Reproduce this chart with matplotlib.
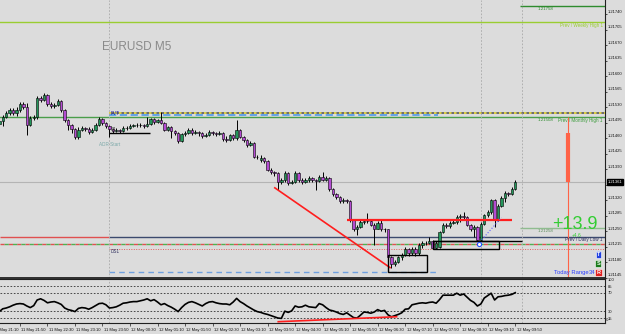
import numpy as np
import matplotlib
matplotlib.use('Agg')
import matplotlib.pyplot as plt
import matplotlib.transforms as mtransforms
from matplotlib.patches import Rectangle

plt.rcParams['font.family'] = ['Liberation Sans', 'DejaVu Sans']

# EURUSD M5 bars, 11 May 21:20 -> 12 May 09:50 (bar index 0..150)
opens = [
    1.21492, 1.21499, 1.21508, 1.21517, 1.21524, 1.21517, 1.21524, 1.21537, 1.21531, 1.21490,
    1.21506, 1.21508, 1.21551, 1.21546, 1.21558, 1.21537, 1.21533, 1.21535, 1.21544, 1.21524,
    1.21501, 1.21490, 1.21481, 1.21463, 1.21479, 1.21483, 1.21481, 1.21474, 1.21479, 1.21490,
    1.21504, 1.21495, 1.21488, 1.21481, 1.21477, 1.21479, 1.21477, 1.21483, 1.21483, 1.21488,
    1.21490, 1.21490, 1.21490, 1.21488, 1.21492, 1.21504, 1.21497, 1.21501, 1.21495, 1.21479,
    1.21486, 1.21477, 1.21472, 1.21454, 1.21470, 1.21472, 1.21479, 1.21472, 1.21474, 1.21472,
    1.21465, 1.21467, 1.21474, 1.21472, 1.21470, 1.21472, 1.21458, 1.21456, 1.21467, 1.21461,
    1.21479, 1.21463, 1.21456, 1.21445, 1.21449, 1.21418, 1.21411, 1.21416, 1.21409, 1.21389,
    1.21384, 1.21382, 1.21362, 1.21366, 1.21382, 1.21359, 1.21362, 1.21382, 1.21366, 1.21362,
    1.21366, 1.21371, 1.21366, 1.21364, 1.21373, 1.21366, 1.21371, 1.21346, 1.21335, 1.21328,
    1.21319, 1.21321, 1.21319, 1.21276, 1.21256, 1.21260, 1.21272, 1.21274, 1.21274, 1.21265,
    1.21256, 1.21269, 1.21256, 1.21254, 1.21193, 1.21177, 1.21181, 1.21191, 1.21197, 1.21209,
    1.21200, 1.21211, 1.21200, 1.21220, 1.21224, 1.21224, 1.21227, 1.21213, 1.21215, 1.21249,
    1.21265, 1.21263, 1.21269, 1.21272, 1.21283, 1.21285, 1.21283, 1.21265, 1.21256, 1.21260,
    1.21231, 1.21267, 1.21287, 1.21294, 1.21321, 1.21276, 1.21308, 1.21326, 1.21337, 1.21335,
    1.21346]
highs = [
    1.21504, 1.21513, 1.21522, 1.21528, 1.21528, 1.21531, 1.21542, 1.21542, 1.21540, 1.21510,
    1.21513, 1.21555, 1.21555, 1.21562, 1.21560, 1.21542, 1.21540, 1.21549, 1.21546, 1.21526,
    1.21504, 1.21492, 1.21483, 1.21486, 1.21488, 1.21486, 1.21486, 1.21483, 1.21495, 1.21508,
    1.21506, 1.21497, 1.21490, 1.21483, 1.21483, 1.21481, 1.21488, 1.21488, 1.21492, 1.21492,
    1.21495, 1.21495, 1.21492, 1.21508, 1.21506, 1.21506, 1.21504, 1.21519, 1.21497, 1.21488,
    1.21488, 1.21479, 1.21474, 1.21472, 1.21477, 1.21483, 1.21483, 1.21479, 1.21477, 1.21474,
    1.21472, 1.21479, 1.21477, 1.21474, 1.21477, 1.21474, 1.21465, 1.21470, 1.21470, 1.21501,
    1.21481, 1.21465, 1.21458, 1.21454, 1.21452, 1.21422, 1.21422, 1.21418, 1.21411, 1.21393,
    1.21386, 1.21384, 1.21371, 1.21386, 1.21384, 1.21366, 1.21386, 1.21384, 1.21371, 1.21371,
    1.21375, 1.21373, 1.21368, 1.21377, 1.21384, 1.21375, 1.21373, 1.21348, 1.21337, 1.21330,
    1.21326, 1.21323, 1.21321, 1.21278, 1.21265, 1.21276, 1.21276, 1.21292, 1.21278, 1.21269,
    1.21274, 1.21276, 1.21258, 1.21256, 1.21195, 1.21186, 1.21195, 1.21202, 1.21215, 1.21213,
    1.21215, 1.21215, 1.21224, 1.21229, 1.21229, 1.21236, 1.21231, 1.21229, 1.21251, 1.21269,
    1.21269, 1.21274, 1.21276, 1.21287, 1.21290, 1.21294, 1.21285, 1.21267, 1.21265, 1.21263,
    1.21272, 1.21290, 1.21299, 1.21323, 1.21323, 1.21312, 1.21330, 1.21341, 1.21339, 1.21350,
    1.21366]
lows = [
    1.21488, 1.21488, 1.21506, 1.21513, 1.21513, 1.21510, 1.21519, 1.21526, 1.21467, 1.21488,
    1.21501, 1.21504, 1.21542, 1.21544, 1.21533, 1.21528, 1.21528, 1.21533, 1.21519, 1.21497,
    1.21479, 1.21472, 1.21458, 1.21458, 1.21477, 1.21477, 1.21470, 1.21472, 1.21477, 1.21488,
    1.21490, 1.21483, 1.21463, 1.21472, 1.21474, 1.21472, 1.21474, 1.21479, 1.21481, 1.21486,
    1.21486, 1.21486, 1.21483, 1.21486, 1.21490, 1.21492, 1.21495, 1.21492, 1.21477, 1.21477,
    1.21461, 1.21467, 1.21449, 1.21452, 1.21465, 1.21470, 1.21467, 1.21470, 1.21465, 1.21461,
    1.21463, 1.21465, 1.21467, 1.21465, 1.21467, 1.21454, 1.21452, 1.21454, 1.21456, 1.21456,
    1.21461, 1.21452, 1.21440, 1.21443, 1.21416, 1.21413, 1.21407, 1.21404, 1.21386, 1.21380,
    1.21375, 1.21344, 1.21357, 1.21362, 1.21355, 1.21357, 1.21359, 1.21362, 1.21357, 1.21359,
    1.21362, 1.21362, 1.21344, 1.21362, 1.21364, 1.21364, 1.21341, 1.21330, 1.21323, 1.21314,
    1.21314, 1.21314, 1.21272, 1.21251, 1.21242, 1.21258, 1.21267, 1.21269, 1.21263, 1.21220,
    1.21254, 1.21251, 1.21249, 1.21186, 1.21168, 1.21172, 1.21179, 1.21186, 1.21195, 1.21195,
    1.21197, 1.21195, 1.21197, 1.21213, 1.21220, 1.21222, 1.21211, 1.21211, 1.21213, 1.21247,
    1.21258, 1.21258, 1.21267, 1.21267, 1.21272, 1.21278, 1.21263, 1.21251, 1.21238, 1.21227,
    1.21229, 1.21265, 1.21283, 1.21290, 1.21260, 1.21274, 1.21305, 1.21317, 1.21330, 1.21332,
    1.21344]
closes = [
    1.21499, 1.21508, 1.21517, 1.21524, 1.21517, 1.21524, 1.21537, 1.21531, 1.21490, 1.21506,
    1.21508, 1.21551, 1.21546, 1.21558, 1.21537, 1.21533, 1.21535, 1.21544, 1.21524, 1.21501,
    1.21490, 1.21481, 1.21463, 1.21479, 1.21483, 1.21481, 1.21474, 1.21479, 1.21490, 1.21504,
    1.21495, 1.21488, 1.21481, 1.21477, 1.21479, 1.21477, 1.21483, 1.21483, 1.21488, 1.21490,
    1.21490, 1.21490, 1.21488, 1.21492, 1.21504, 1.21497, 1.21501, 1.21495, 1.21479, 1.21486,
    1.21477, 1.21472, 1.21454, 1.21470, 1.21472, 1.21479, 1.21472, 1.21474, 1.21472, 1.21465,
    1.21467, 1.21474, 1.21472, 1.21470, 1.21472, 1.21458, 1.21456, 1.21467, 1.21461, 1.21479,
    1.21463, 1.21456, 1.21445, 1.21449, 1.21418, 1.21418, 1.21416, 1.21409, 1.21389, 1.21384,
    1.21382, 1.21362, 1.21366, 1.21382, 1.21359, 1.21362, 1.21382, 1.21366, 1.21362, 1.21366,
    1.21371, 1.21366, 1.21364, 1.21373, 1.21366, 1.21371, 1.21346, 1.21335, 1.21328, 1.21319,
    1.21321, 1.21319, 1.21276, 1.21256, 1.21260, 1.21272, 1.21274, 1.21274, 1.21265, 1.21256,
    1.21269, 1.21256, 1.21254, 1.21193, 1.21177, 1.21181, 1.21191, 1.21197, 1.21209, 1.21200,
    1.21211, 1.21200, 1.21220, 1.21224, 1.21224, 1.21229, 1.21213, 1.21224, 1.21249, 1.21265,
    1.21263, 1.21269, 1.21272, 1.21283, 1.21285, 1.21283, 1.21265, 1.21256, 1.21260, 1.21231,
    1.21267, 1.21287, 1.21294, 1.21321, 1.21276, 1.21308, 1.21326, 1.21337, 1.21335, 1.21346,
    1.21361]

# oscillator in the lower window
osc = [
    29.5, 35.6, 37.3, 39.9, 43.4, 46.0, 46.9, 46.0, 41.7, 38.2,
    42.5, 54.7, 57.3, 53.8, 48.6, 50.3, 51.2, 48.6, 45.1, 37.3,
    33.8, 32.1, 29.5, 36.5, 38.2, 37.3, 34.7, 38.2, 42.5, 46.9,
    47.7, 44.3, 37.3, 38.2, 39.9, 43.4, 47.7, 48.6, 50.3, 51.2,
    51.2, 52.9, 54.7, 57.3, 52.9, 55.5, 50.3, 44.3, 46.9, 42.5,
    39.1, 34.7, 29.5, 38.2, 45.1, 49.5, 51.2, 48.6, 45.1, 41.7,
    46.9, 50.3, 51.2, 48.6, 46.9, 46.0, 46.0, 44.3, 50.3, 58.2,
    51.2, 46.9, 41.7, 37.3, 33.0, 29.5, 27.8, 25.2, 23.4, 20.8,
    18.2, 15.6, 14.8, 30.4, 27.8, 31.2, 41.7, 39.1, 39.9, 43.4,
    39.9, 39.1, 38.2, 46.9, 44.3, 38.2, 33.0, 31.2, 28.6, 25.2,
    23.4, 26.9, 21.7, 16.5, 15.6, 21.7, 28.6, 27.8, 26.0, 28.6,
    33.8, 30.4, 32.1, 22.6, 18.2, 20.8, 23.4, 26.9, 34.7, 35.6,
    44.3, 46.0, 47.7, 48.6, 47.7, 49.5, 50.3, 47.7, 55.5, 65.1,
    65.1, 65.1, 65.1, 69.4, 65.1, 67.7, 60.8, 53.8, 49.5, 41.7,
    46.0, 59.0, 64.2, 69.4, 54.7, 61.6, 62.5, 64.2, 65.1, 66.8,
    70.5]

price_ticks = [1.21145, 1.21180, 1.21215, 1.21250, 1.21285, 1.21320, 1.21355, 1.21390,
               1.21425, 1.21460, 1.21495, 1.21530, 1.21565, 1.21600, 1.21635, 1.21670,
               1.21705, 1.21740]
bid = 1.21361

time_ticks = [6, 14, 22, 30, 38, 46, 54, 62, 70, 78, 86, 94, 102, 110, 118, 126, 134, 142, 150]
time_labels = ['11 May 21:50', '11 May 22:30', '11 May 23:10', '11 May 23:50', '12 May 00:30',
               '12 May 01:10', '12 May 01:50', '12 May 02:30', '12 May 03:10', '12 May 03:50',
               '12 May 04:30', '12 May 05:10', '12 May 05:50', '12 May 06:30', '12 May 07:10',
               '12 May 07:50', '12 May 08:30', '12 May 09:10', '12 May 09:50']
first_label = (-2, '11 May 21:10')

osc_levels = [15, 30, 70, 85]
osc_ticks = [15, 30, 70, 85, 100]

# price levels drawn by the indicators
weekly_high = 1.21722
pvt_top = 1.21518
pvt = 1.21512
monthly_high = 1.21508
s1 = 1.21472
daily_low = 1.21237
box_top_line = 1.21229
ds_mid = 1.21222
ds1 = 1.21211
adr_low = 1.21159
proj_high = 1.21758
proj_low = 1.21258
res_level = 1.21276

# bar positions (time)
day_start = 32      # 12 May 00:00
h09 = 140
h10 = 152
proj_start = 151.4
adr_bar = 165.3
pvt_end = 127.5

bull = '#23955a'
bear = '#b44bd2'
bg = '#dcdcdc'

fig = plt.figure(figsize=(6.25, 3.34), dpi=100)
fig.patch.set_facecolor(bg)
ax = fig.add_axes([0, 56 / 334, 605 / 625, 278 / 334])
ax2 = fig.add_axes([0, 11.5 / 334, 605 / 625, 43.5 / 334])
for a in (ax, ax2):
    a.set_facecolor(bg)
    a.set_xlim(0.2, 176.1)
    for s in a.spines.values():
        s.set_color('#202020')
    a.spines['left'].set_visible(False)
ax.spines['top'].set_visible(False)
ax.spines['bottom'].set_linewidth(1.3)
ax.set_ylim(1.211445, 1.21772)

x = np.arange(len(closes))
o = np.array(opens)
h = np.array(highs)
l = np.array(lows)
c = np.array(closes)
up = c >= o

# horizontal levels
ax.axhline(weekly_high, color='#9acd32', lw=1.0, zorder=1)
ax.axhline(monthly_high, color='#4a9e4a', lw=1.0, zorder=1)
ax.hlines(pvt_top, day_start, 176.1, color='#5a5a5a', lw=1.2, zorder=1)
ax.hlines(pvt_top, day_start, 176.1, color='#f0e040', lw=1.2, linestyles=(0, (1.5, 1.5)), zorder=1)
ax.hlines(pvt, day_start, pvt_end, color='#5aa0e6', lw=1.3, linestyles=(0, (4, 2)), zorder=1)
ax.hlines(s1, day_start, 43.8, color='black', lw=1.0, zorder=2)
ax.axhline(bid, color='#b4b4b4', lw=0.8, zorder=1)
ax.hlines(daily_low, 0.2, day_start, color='#e05050', lw=1.0, zorder=1)
ax.hlines(daily_low, day_start, 176.1, color='#3c4a6e', lw=1.0, zorder=1)
ax.axhline(ds_mid, color='#e05050', lw=1.0, ls=(0, (3, 3)), zorder=1)
ax.axhline(ds_mid, color='#50b050', lw=1.0, ls=(3, (3, 3)), zorder=1)
ax.hlines(ds1, day_start, 176.1, color='#e06060', lw=0.7, linestyles=(0, (1, 1.5)), zorder=1)
ax.hlines(adr_low, day_start, pvt_end, color='#6fa0e0', lw=1.0, linestyles=(0, (4, 3)), zorder=1)
ax.hlines(proj_high, proj_start, 176.1, color='#2e8b2e', lw=1.0, zorder=1)
ax.hlines(proj_low, proj_start, 176.1, color='#8fbc8f', lw=1.0, zorder=1)
ax.hlines(box_top_line, 126.1, h10, color='black', lw=1.0, zorder=2)

for vx in (day_start, h09, h10):
    ax.axvline(vx, color='#a8a8a8', lw=0.6, ls=(0, (2, 2)), zorder=1)
    ax2.axvline(vx, color='#a8a8a8', lw=0.6, ls=(0, (2, 2)), zorder=1)

# candles
ax.vlines(x, l, h, color='black', lw=0.7, zorder=3)
ax.bar(x[up], c[up] - o[up], bottom=o[up], width=0.7, color=bull,
       edgecolor='black', linewidth=0.4, zorder=4)
ax.bar(x[~up], o[~up] - c[~up], bottom=c[~up], width=0.7, color=bear,
       edgecolor='black', linewidth=0.4, zorder=4)

# drawn objects
ax.plot([80.1, 113.6], [1.21348, 1.21168], color='#ff1e1e', lw=1.2, zorder=5)
ax.hlines(res_level, 101, 149, color='#ff1e1e', lw=1.6, zorder=5)
ax.add_patch(Rectangle((113, adr_low), 11.3, 0.00038, fill=False, ec='black', lw=1.0, zorder=5))
ax.add_patch(Rectangle((126.1, 1.21209), 19.2, 0.00018, fill=False, ec='black', lw=1.0, zorder=5))
ax.plot([140.3, 146], [1.21231, 1.21281], color='#6060ff', lw=0.8, ls=':', zorder=5)
ax.plot([139.4], [ds_mid], marker='o', ms=3, mfc='white', mec='#2050ff', mew=0.8, zorder=6)

# ADR bar
ax.vlines(adr_bar, 1.21144, monthly_high, color='#ff6347', lw=0.8, zorder=2)
ax.vlines(adr_bar, 1.21362, 1.21472, color='#ff6347', lw=3.0, zorder=3)

# texts
ax.text(102 / 605, 1 - 47 / 278, 'EURUSD M5', transform=ax.transAxes, fontsize=8.5,
        color='#8a8a8a', ha='left', va='center')
ax.text(32.5, 1.21515, 'PVT', fontsize=3.3, color='#2020a0', ha='left', va='center', zorder=6)
ax.text(32.5, 1.21479, 'S1', fontsize=3.3, color='#303030', ha='left', va='center', zorder=6)
ax.text(32.2, 1.21445, 'ADR Start', fontsize=3.3, color='#7aa8a8', ha='center', va='center')
ax.text(32.5, 1.21204, 'DS1', fontsize=3.3, color='#303060', ha='left', va='center')

right = mtransforms.blended_transform_factory(ax.transAxes, ax.transData)
ax.text(0.996, 1.21715, 'Prev / Weekly High 1', transform=right, fontsize=3.3,
        color='#9acd32', ha='right', va='center')
ax.text(0.996, 1.21501, 'Prev / Monthly High 1', transform=right, fontsize=3.3,
        color='#3a9a3a', ha='right', va='center')
ax.text(0.996, 1.21231, 'Prev / Daily Low 1', transform=right, fontsize=3.3,
        color='#303060', ha='right', va='center')
ax.text(156.6, 1.21751, '1.21758', fontsize=3.2, color='#2e8b2e', ha='left', va='center')
ax.text(156.6, 1.21501, '1.21508', fontsize=3.2, color='#2e8b2e', ha='left', va='center')
ax.text(156.6, 1.21250, '1.21258', fontsize=3.2, color='#5e8e5e', ha='left', va='center')
ax.text(160.8, 1.21266, '+13.9', fontsize=13, color='#32cd32', ha='left', va='center', zorder=6)
ax.text(166.5, 1.21241, '+4.6', fontsize=3.5, color='#32cd32', ha='left', va='center')
ax.text(161.3, 1.21157, 'Today Range', fontsize=4.2, color='#2a3cff', ha='left', va='center')
ax.text(171.5, 1.21157, '34', fontsize=4.2, color='#2a3cff', ha='left', va='center')
for lab, yv, col in (('T', 1.21197, '#2040e0'), ('S', 1.21177, '#1a7a1a'), ('R', 1.21157, '#e02020')):
    ax.text(174.2, yv, lab, fontsize=4, color='white', fontweight='bold', ha='center', va='center',
            zorder=7, bbox=dict(boxstyle='square,pad=0.2', fc=col, ec='white', lw=0.4))

# price axis
ax.yaxis.tick_right()
ax.set_yticks(price_ticks)
ax.set_yticklabels(['%.5f' % p for p in price_ticks])
ax.tick_params(axis='y', labelsize=3.0, length=1.5, width=0.5, pad=0.8, colors='#101010')
ax.set_xticks([])
shift = mtransforms.ScaledTranslation(0, 0.03, fig.dpi_scale_trans)
for t in ax.yaxis.get_major_ticks():
    t.label2.set_transform(t.label2.get_transform() + shift)
ax.annotate('%.5f' % bid, xy=(1.0, bid), xycoords=right, xytext=(2.0, 0),
            textcoords='offset points', fontsize=3.0, color='white', ha='left', va='center',
            bbox=dict(boxstyle='square,pad=0.15', fc='black', ec='black'), annotation_clip=False)

# oscillator window
ax2.set_ylim(5.9, 100.2)
for lv in osc_levels:
    ax2.axhline(lv, color='#303030', lw=0.6, ls=(0, (2, 2)), zorder=1)
ax2.plot(x, osc, color='black', lw=1.2, zorder=3)
ax2.plot([81.1, 115.5], [7.6, 18.4], color='#ff1e1e', lw=1.2, zorder=4)
ax2.yaxis.tick_right()
ax2.set_yticks(osc_ticks)
ax2.set_yticklabels([str(v) for v in osc_ticks])
ax2.tick_params(axis='y', labelsize=3.0, length=0, pad=2, colors='#101010')
ax2.text(1.0, 0.05, ' 0', transform=ax2.transAxes, fontsize=3.0, color='#101010',
         ha='left', va='center', clip_on=False)
ax2.set_xticks(time_ticks)
ax2.set_xticklabels([])
ax2.tick_params(axis='x', length=2, width=0.5, direction='out', colors='#202020')
bottom2 = mtransforms.blended_transform_factory(ax2.transData, ax2.transAxes)
for tx, lab in zip(time_ticks, time_labels):
    ax2.text(tx + 0.4, -0.17, lab, transform=bottom2, fontsize=3.0, color='#101010',
             ha='left', va='center', clip_on=False)
ax2.text(first_label[0] + 0.4, -0.17, first_label[1], transform=bottom2, fontsize=3.0,
         color='#101010', ha='left', va='center', clip_on=False)

fig.savefig('out.png', dpi=100, facecolor=bg)
